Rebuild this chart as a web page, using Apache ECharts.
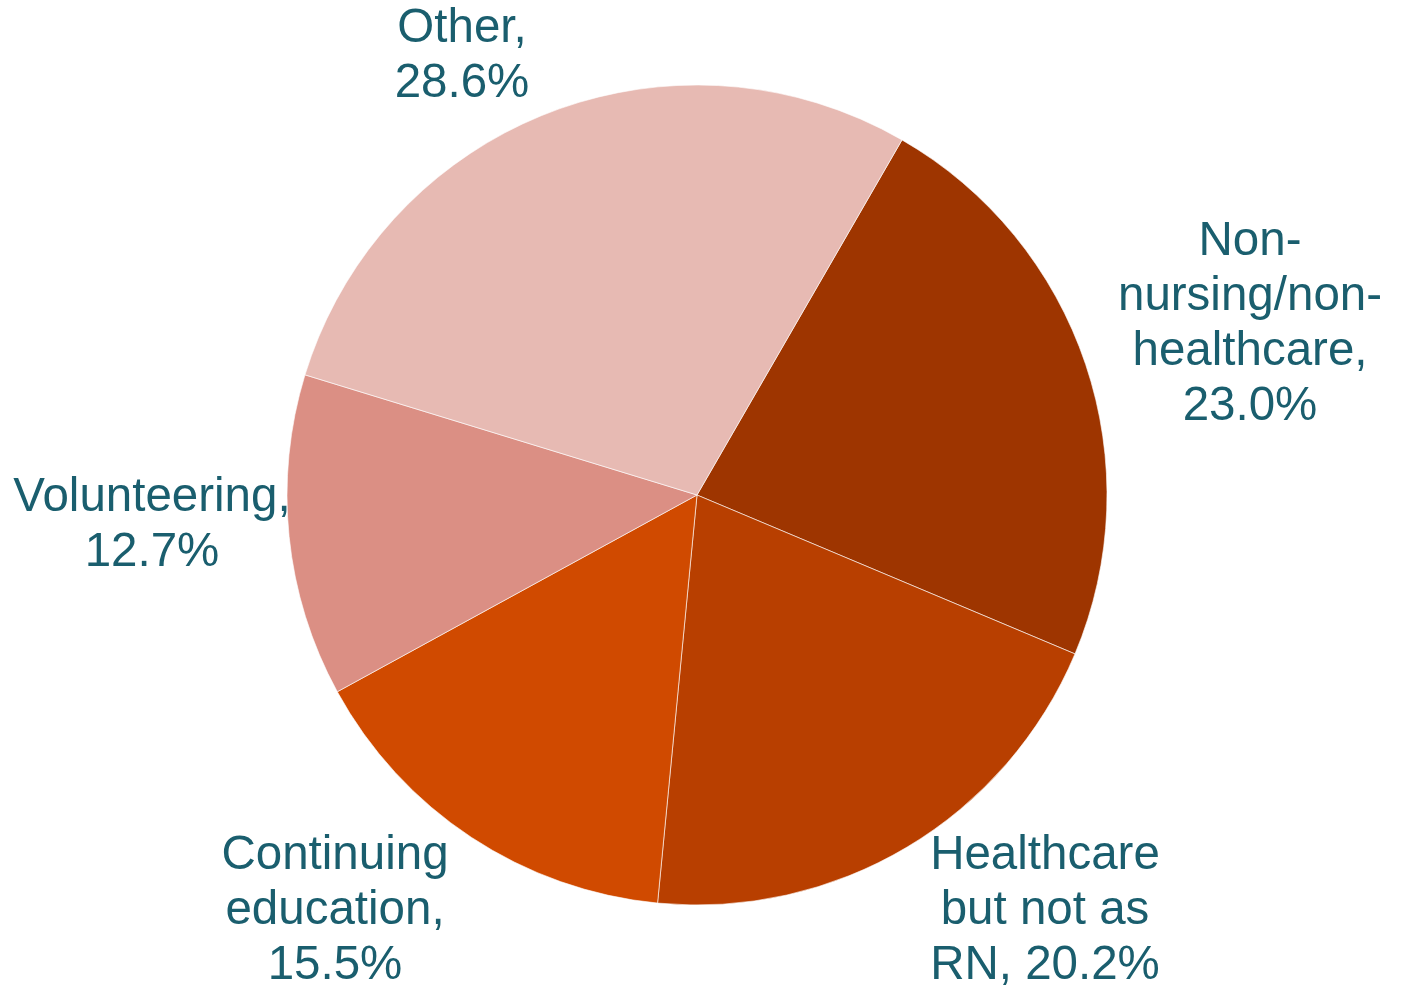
<!DOCTYPE html>
<html>
<head>
<meta charset="utf-8">
<script src="https://cdn.jsdelivr.net/npm/echarts@6/dist/echarts.min.js"></script>
<style>
html,body{margin:0;padding:0;background:#fff;}
#chart{width:1401px;height:990px;}
</style>
</head>
<body>
<div id="chart"></div>
<script>
// ---- data ----
const categories = [
  "Non-nursing/non-healthcare",
  "Healthcare but not as RN",
  "Continuing education",
  "Volunteering",
  "Other"
];
const values = [23.0, 20.2, 15.5, 12.7, 28.6];
// wrapped label text (as in the original)
const labelNames = [
  "Non-\nnursing/non-\nhealthcare,",
  "Healthcare\nbut not as\nRN,",
  "Continuing\neducation,",
  "Volunteering,",
  "Other,"
];
// ---- styling / layout ----
const colors = ["#9E3500", "#B83F00", "#D04A00", "#DB8F84", "#E7BAB3"];
const pieCenter = [697, 495];
const pieRadius = 410;
// label centre offsets from pie centre (px)
const labelOffsets = [
  [553, -171],
  [348, 416],
  [-362, 416],
  [-545, 30],
  [-235, -439]
];
// whether the value goes on its own line
const valueOnNewLine = [true, false, true, true, true];

const chart = echarts.init(document.getElementById('chart'), null, {renderer: 'canvas'});
chart.setOption({
  animation: false,
  backgroundColor: '#ffffff',
  series: [{
    type: 'pie',
    center: pieCenter,
    radius: pieRadius,
    startAngle: 60,
    clockwise: true,
    data: categories.map((c, i) => ({
      name: c,
      value: values[i],
      itemStyle: {color: colors[i]}
    })),
    itemStyle: {borderColor: '#ffffff', borderWidth: 0.6},
    label: {
      show: true,
      position: 'outside',
      fontFamily: '"Liberation Sans", Arial, sans-serif',
      fontSize: 47.5,
      lineHeight: 55,
      color: '#1A5E6E',
      align: 'center',
      overflow: 'none',
      formatter: function (p) {
        const i = p.dataIndex;
        return labelNames[i] + (valueOnNewLine[i] ? '\n' : ' ') + values[i].toFixed(1) + '%';
      }
    },
    labelLine: {show: false},
    labelLayout: function (params) {
      const o = labelOffsets[params.dataIndex];
      return {
        x: pieCenter[0] + o[0],
        y: pieCenter[1] + o[1],
        align: 'center',
        verticalAlign: 'middle',
        width: 400
      };
    },
    emphasis: {disabled: true}
  }]
});
</script>
</body>
</html>
